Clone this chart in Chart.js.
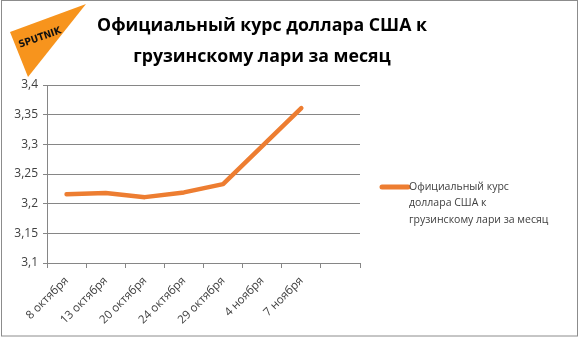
<!DOCTYPE html>
<html>
<head>
<meta charset="utf-8">
<script src="https://cdn.jsdelivr.net/npm/chart.js@4/dist/chart.umd.min.js"></script>
<style>
  html, body { margin: 0; padding: 0; background: #fff; }
  #wrap { width: 579px; height: 337px; position: relative; }
</style>
</head>
<body>
<div id="wrap"><canvas id="chart" width="579" height="337"></canvas></div>
<script>
// data
const dates = ['8 октября', '13 октября', '20 октября', '24 октября', '29 октября', '4 ноября', '7 ноября', ''];
const rate = [3.216, 3.218, 3.211, 3.219, 3.233, 3.297, 3.361, null];
const yTicks = ['3,1', '3,15', '3,2', '3,25', '3,3', '3,35', '3,4'];
const titleLines = ['Официальный курс доллара США к', 'грузинскому лари за месяц'];
const seriesName = 'Официальный курс доллара США к грузинскому лари за месяц';
const legendLines = ['Официальный курс', 'доллара США к', 'грузинскому лари за месяц'];

const orange = '#ED7D31';
const fontFamily = "'Open Sans', 'Noto Sans', sans-serif";

// background, border, logo, title, legend
const decor = {
  id: 'decor',
  beforeDraw(chart) {
    const ctx = chart.ctx;
    ctx.save();
    ctx.fillStyle = '#fff';
    ctx.fillRect(0, 0, chart.width, chart.height);
    ctx.strokeStyle = '#8c8c8c';
    ctx.lineWidth = 1;
    ctx.strokeRect(1.5, 0.5, chart.width - 3, chart.height - 1.5);

    // sputnik logo
    ctx.fillStyle = '#F7941D';
    ctx.beginPath();
    ctx.moveTo(86, 4);
    ctx.lineTo(10, 32);
    ctx.lineTo(28, 77);
    ctx.closePath();
    ctx.fill();
    ctx.translate(40, 38);
    ctx.rotate(-0.34);
    ctx.fillStyle = '#111';
    ctx.font = "bold 10px 'DejaVu Sans Condensed', 'DejaVu Sans', sans-serif";
    ctx.textAlign = 'center';
    ctx.textBaseline = 'middle';
    ctx.fillText('SPUTNIK', 0, 0);
    ctx.restore();
  },
  afterDraw(chart) {
    const ctx = chart.ctx;
    ctx.save();
    ctx.fillStyle = '#000';
    ctx.font = 'bold 17.7px ' + fontFamily;
    ctx.textAlign = 'center';
    ctx.textBaseline = 'middle';
    ctx.fillText(titleLines[0], 262, 26);
    ctx.fillText(titleLines[1], 262, 57);

    // legend
    const ds = chart.data.datasets[0];
    ctx.strokeStyle = ds.borderColor;
    ctx.lineWidth = 5;
    ctx.lineCap = 'round';
    ctx.beginPath();
    ctx.moveTo(382, 187);
    ctx.lineTo(408, 187);
    ctx.stroke();
    ctx.fillStyle = '#404040';
    ctx.font = '10.5px ' + fontFamily;
    ctx.textAlign = 'left';
    legendLines.forEach((t, i) => ctx.fillText(t, 409, 187 + i * 16.5));
    ctx.restore();
  }
};

new Chart(document.getElementById('chart'), {
  type: 'line',
  data: {
    labels: dates,
    datasets: [{
      label: seriesName,
      data: rate,
      borderColor: orange,
      borderWidth: 4.5,
      pointRadius: 0,
      tension: 0,
      borderCapStyle: 'round',
      borderJoinStyle: 'round'
    }]
  },
  options: {
    responsive: false,
    animation: false,
    layout: { padding: { left: 0, right: 219, top: 85, bottom: 0 } },
    plugins: { legend: { display: false }, tooltip: { enabled: false } },
    scales: {
      x: {
        offset: true,
        grid: { drawOnChartArea: false, color: '#868686', tickLength: 5, offset: true },
        border: { color: '#868686' },
        ticks: {
          minRotation: 45, maxRotation: 45, autoSkip: false,
          color: '#404040', font: { family: fontFamily, size: 11.5 }, padding: 6
        },
        afterFit(s) { s.height = 74; }
      },
      y: {
        min: 3.1, max: 3.4,
        grid: { color: '#868686', tickLength: 4 },
        border: { color: '#868686' },
        ticks: {
          stepSize: 0.05,
          color: '#404040', font: { family: fontFamily, size: 12 }, padding: 5,
          callback: (v, i) => yTicks[i]
        },
        afterFit(s) { s.width = 47; }
      }
    }
  },
  plugins: [decor]
});
</script>
</body>
</html>
